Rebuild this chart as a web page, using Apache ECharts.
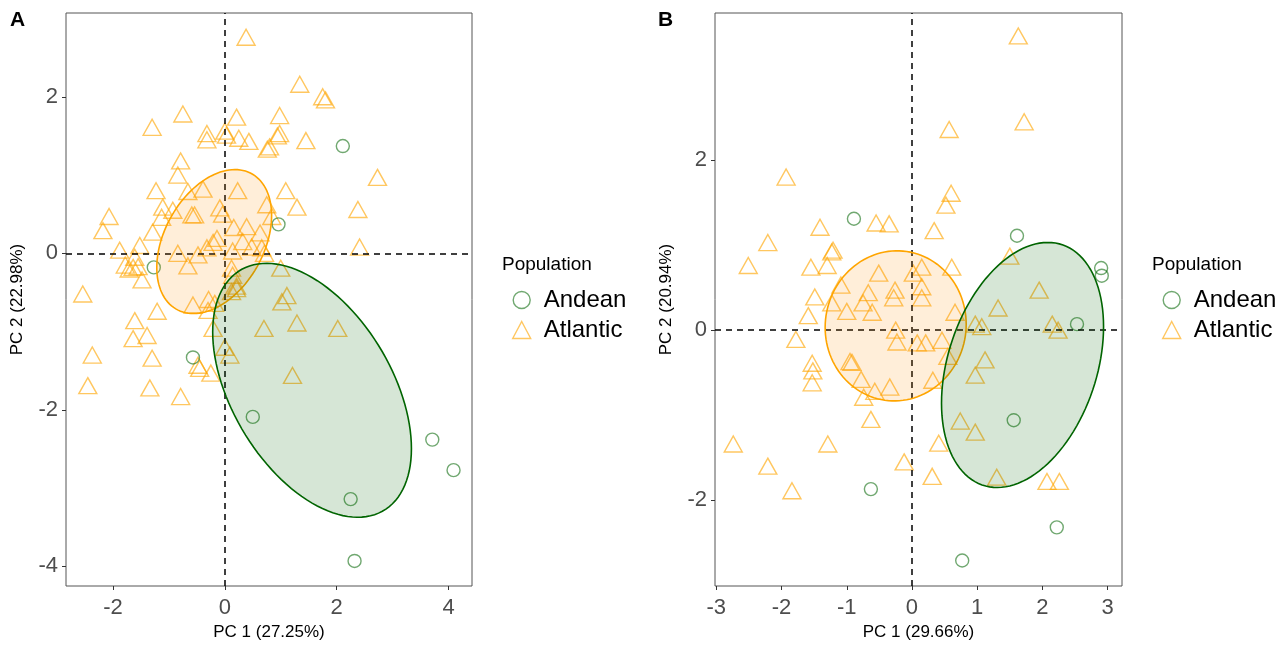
<!DOCTYPE html>
<html>
<head>
<meta charset="utf-8">
<script src="https://cdn.jsdelivr.net/npm/echarts@6/dist/echarts.min.js"></script>
<style>
  html, body { margin: 0; padding: 0; background: #fff; }
  #main { width: 1288px; height: 646px; }
</style>
</head>
<body>
<div id="main"></div>
<script>
// 面板 A 的点
var andeanA = [[2.11, 1.37], [0.96, 0.37], [-1.27, -0.18], [-0.57, -1.33], [0.50, -2.09],
  [3.71, -2.38], [4.09, -2.77], [2.25, -3.14], [2.32, -3.93]];
var atlanticA = [
  [0.38, 2.76], [1.34, 2.16], [1.75, 2.00], [1.80, 1.96], [-0.75, 1.78], [-1.30, 1.61],
  [0.21, 1.74], [0.98, 1.76], [-0.32, 1.53], [-0.32, 1.45], [0.00, 1.56], [0.03, 1.51],
  [0.25, 1.47], [0.43, 1.43], [0.98, 1.53], [0.94, 1.50], [0.80, 1.36], [0.76, 1.33],
  [1.45, 1.44], [2.73, 0.97], [-0.79, 1.18], [-0.84, 1.00], [-1.23, 0.80], [-0.39, 0.82],
  [-0.66, 0.79], [0.23, 0.80], [1.09, 0.80], [1.29, 0.59], [2.38, 0.56], [0.75, 0.62],
  [0.84, 0.47], [-2.07, 0.47], [-2.18, 0.29], [-1.11, 0.59], [-0.93, 0.55], [-1.13, 0.46],
  [-0.59, 0.49], [-0.54, 0.49], [-0.09, 0.58], [-0.04, 0.50], [-1.29, 0.27], [0.16, 0.33],
  [0.39, 0.34], [0.63, 0.26], [0.32, 0.15], [-0.14, 0.19], [-0.21, 0.14], [-0.32, 0.07],
  [0.14, 0.03], [0.48, 0.08], [0.66, 0.07], [0.71, 0.00], [-1.52, 0.10], [-1.88, 0.04],
  [-0.84, 0.00], [-0.48, -0.02], [-0.66, -0.16], [2.41, 0.08], [-1.78, -0.15], [-1.61, -0.05],
  [-1.64, -0.18], [-1.55, -0.17], [-1.48, -0.34], [-2.54, -0.52], [0.12, -0.19], [0.14, -0.28],
  [0.21, -0.42], [0.12, -0.49], [0.21, -0.45], [1.00, -0.19], [1.11, -0.54], [1.02, -0.62],
  [-1.21, -0.74], [-1.61, -0.86], [-1.64, -1.09], [-1.39, -1.05], [-2.37, -1.30], [-1.30, -1.34],
  [-2.45, -1.69], [-1.34, -1.72], [-0.79, -1.83], [-0.48, -1.43], [-0.45, -1.47], [-0.25, -1.53],
  [0.00, -1.20], [0.09, -1.30], [-0.21, -0.96], [-0.57, -0.66], [-0.29, -0.59], [-0.18, -0.64],
  [-0.30, -0.73], [0.70, -0.96], [1.29, -0.89], [2.02, -0.96], [1.21, -1.56], [-1.71, -0.20]
];

// 面板 B 的点
var andeanB = [[-0.89, 1.31], [1.61, 1.11], [2.90, 0.73], [2.91, 0.64], [2.53, 0.07],
  [1.56, -1.06], [-0.63, -1.87], [0.77, -2.71], [2.22, -2.32]];
var atlanticB = [
  [1.63, 3.46], [1.72, 2.45], [0.57, 2.36], [-1.93, 1.80], [0.60, 1.61], [0.52, 1.47],
  [-0.55, 1.26], [-0.35, 1.25], [-1.41, 1.21], [0.34, 1.17], [-2.21, 1.03], [-1.21, 0.94],
  [-1.23, 0.92], [-2.51, 0.76], [-1.55, 0.74], [-1.30, 0.76], [1.50, 0.87], [-0.51, 0.67],
  [0.15, 0.74], [0.02, 0.67], [0.61, 0.74], [1.95, 0.47], [-1.09, 0.53], [-1.49, 0.39],
  [-0.67, 0.44], [-0.26, 0.47], [-0.28, 0.38], [0.15, 0.51], [0.15, 0.38], [1.32, 0.26],
  [0.66, 0.21], [-1.00, 0.22], [-0.75, 0.32], [-0.61, 0.21], [-1.23, 0.32], [-1.59, 0.17],
  [-1.78, -0.11], [-1.53, -0.39], [-1.52, -0.48], [-1.53, -0.62], [-0.92, -0.38], [-0.95, -0.37],
  [-0.78, -0.58], [-0.57, -0.72], [-0.74, -0.79], [-0.34, -0.67], [-0.63, -1.05], [-0.25, 0.00],
  [-0.23, -0.14], [0.08, -0.15], [0.21, -0.15], [0.46, -0.12], [0.55, -0.31], [0.32, -0.59],
  [-2.74, -1.34], [-1.29, -1.34], [-2.21, -1.60], [-1.84, -1.89], [-0.12, -1.55], [0.31, -1.72],
  [0.41, -1.33], [2.07, -1.78], [2.26, -1.78], [1.30, -1.73], [0.74, -1.07], [0.97, -1.20],
  [0.97, -0.53], [1.12, -0.35], [0.97, 0.07], [1.07, 0.04], [2.15, 0.07], [2.24, 0.00]
];

// 椭圆参数: [中心x, 中心y, sxx, sxy, syy]
var ellAtlanticA = [-0.19, 0.15, 1.054, 0.342, 0.846];
var ellAndeanA = [1.56, -1.75, 3.157, -1.323, 2.631];
var ellAtlanticB = [-0.25, 0.05, 1.169, 0.02, 0.779];
var ellAndeanB = [1.695, -0.41, 1.543, 0.559, 2.077];

// 刻度
var ticksAx = [-2, 0, 2, 4];
var ticksAy = [-4, -2, 0, 2];
var ticksBx = [-3, -2, -1, 0, 1, 2, 3];
var ticksBy = [-2, 0, 2];

var orange = '#FFA500';
var green = '#006400';
var font = 'Liberation Sans, Arial, sans-serif';

// 椭圆轮廓
function ellipsePath(e) {
  var a = Math.sqrt(e[2]);
  var b = e[3] / a;
  var c = Math.sqrt(e[4] - b * b);
  var pts = [];
  for (var i = 0; i < 120; i++) {
    var t = i / 120 * Math.PI * 2;
    pts.push([e[0] + a * Math.cos(t), e[1] + b * Math.cos(t) + c * Math.sin(t)]);
  }
  return pts;
}

function ellipseSeries(idx, e, stroke, fill) {
  var outline = ellipsePath(e);
  return {
    type: 'custom',
    xAxisIndex: idx,
    yAxisIndex: idx,
    silent: true,
    z: 5,
    data: [[e[0], e[1]]],
    renderItem: function (params, api) {
      var pts = outline.map(function (p) { return api.coord(p); });
      return {
        type: 'polygon',
        shape: { points: pts },
        style: { fill: fill, stroke: stroke, lineWidth: 1.6 }
      };
    }
  };
}

function pointSeries(idx, name, data, withLines) {
  var isAndean = name === 'Andean';
  var s = {
    name: name,
    type: 'scatter',
    xAxisIndex: idx,
    yAxisIndex: idx,
    silent: true,
    z: 3,
    symbol: isAndean ? 'circle' : 'triangle',
    symbolSize: isAndean ? 13 : [18, 16],
    itemStyle: {
      color: 'rgba(0,0,0,0)',
      borderColor: isAndean ? 'rgba(0,100,0,0.7)' : 'rgba(255,165,0,0.78)',
      borderWidth: 1.4
    },
    emphasis: { disabled: true },
    data: data
  };
  if (withLines) {
    s.markLine = {
      silent: true,
      symbol: 'none',
      label: { show: false },
      animation: false,
      lineStyle: { color: '#000', type: [6, 5], width: 1.5 },
      data: [{ xAxis: 0 }, { yAxis: 0 }]
    };
  }
  return s;
}

function xAxisOf(idx, name, lo, hi, ticks) {
  return {
    type: 'value', gridIndex: idx, min: lo, max: hi,
    name: name, nameLocation: 'middle', nameGap: 38,
    nameTextStyle: { color: '#000', fontSize: 17, fontFamily: font },
    splitLine: { show: false },
    axisLine: { show: false, onZero: false },
    axisTick: { show: true, length: 4, lineStyle: { color: '#333' }, customValues: ticks },
    axisLabel: { color: '#4d4d4d', fontSize: 22, fontFamily: font, margin: 11, customValues: ticks }
  };
}

function yAxisOf(idx, name, lo, hi, ticks) {
  return {
    type: 'value', gridIndex: idx, min: lo, max: hi,
    name: name, nameLocation: 'middle', nameGap: 40,
    nameTextStyle: { color: '#000', fontSize: 17, fontFamily: font },
    splitLine: { show: false },
    axisLine: { show: false, onZero: false },
    axisTick: { show: true, length: 4, lineStyle: { color: '#333' }, customValues: ticks },
    axisLabel: { color: '#4d4d4d', fontSize: 22, fontFamily: font, margin: 8, customValues: ticks }
  };
}

function legendOf(left) {
  return {
    left: left, top: 283, orient: 'vertical',
    itemWidth: 18, itemHeight: 17, itemGap: 6,
    selectedMode: false,
    textStyle: { color: '#000', fontSize: 24, fontFamily: font, padding: [0, 0, 0, 8] },
    data: [
      { name: 'Andean', icon: 'circle',
        itemStyle: { color: 'rgba(0,0,0,0)', borderColor: 'rgba(0,100,0,0.7)', borderWidth: 1.4 } },
      { name: 'Atlantic', icon: 'triangle',
        itemStyle: { color: 'rgba(0,0,0,0)', borderColor: 'rgba(255,165,0,0.78)', borderWidth: 1.4 } }
    ]
  };
}

var myChart = echarts.init(document.getElementById('main'));

var option = {
  animation: false,
  backgroundColor: '#fff',
  grid: [
    { left: 66, right: 816, top: 13, bottom: 60, show: true, borderColor: '#555', borderWidth: 1, backgroundColor: 'transparent' },
    { left: 715, right: 166, top: 13, bottom: 60, show: true, borderColor: '#555', borderWidth: 1, backgroundColor: 'transparent' }
  ],
  xAxis: [
    xAxisOf(0, 'PC 1 (27.25%)', -2.84, 4.42, ticksAx),
    xAxisOf(1, 'PC 1 (29.66%)', -3.02, 3.22, ticksBx)
  ],
  yAxis: [
    yAxisOf(0, 'PC 2 (22.98%)', -4.25, 3.07, ticksAy),
    yAxisOf(1, 'PC 2 (20.94%)', -3.01, 3.73, ticksBy)
  ],
  legend: [legendOf(507), legendOf(1157)],
  graphic: [
    { type: 'text', left: 10, top: 10, style: { text: 'A', fontSize: 21, fontWeight: 'bold', fontFamily: font, fill: '#000' } },
    { type: 'text', left: 658, top: 10, style: { text: 'B', fontSize: 21, fontWeight: 'bold', fontFamily: font, fill: '#000' } },
    { type: 'text', left: 502, top: 255, style: { text: 'Population', fontSize: 19, fontFamily: font, fill: '#000' } },
    { type: 'text', left: 1152, top: 255, style: { text: 'Population', fontSize: 19, fontFamily: font, fill: '#000' } }
  ],
  series: [
    pointSeries(0, 'Atlantic', atlanticA, true),
    pointSeries(0, 'Andean', andeanA, false),
    ellipseSeries(0, ellAtlanticA, orange, 'rgba(255,140,0,0.15)'),
    ellipseSeries(0, ellAndeanA, green, 'rgba(0,100,0,0.16)'),
    pointSeries(1, 'Atlantic', atlanticB, true),
    pointSeries(1, 'Andean', andeanB, false),
    ellipseSeries(1, ellAtlanticB, orange, 'rgba(255,140,0,0.15)'),
    ellipseSeries(1, ellAndeanB, green, 'rgba(0,100,0,0.16)')
  ]
};

myChart.setOption(option);
</script>
</body>
</html>
